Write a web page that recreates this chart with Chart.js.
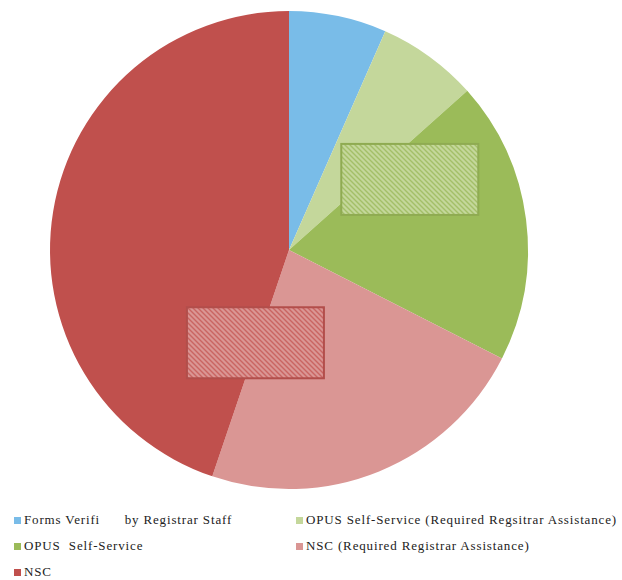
<!DOCTYPE html>
<html>
<head>
<meta charset="utf-8">
<script src="https://cdn.jsdelivr.net/npm/chart.js@4"></script>
<style>
  body { margin: 0; background: #fff; width: 622px; height: 580px; position: relative; overflow: hidden; }
  #wrap { position: absolute; left: 0; top: 0; width: 622px; height: 500px; }
  .lg { position: absolute; font-family: "Liberation Serif", serif; font-size: 13px; letter-spacing: 0.85px; color: #222; white-space: pre; }
  .lg i { display: inline-block; width: 7px; height: 7px; margin-right: 3px; vertical-align: 0px; }
</style>
</head>
<body>
<div id="wrap"><canvas id="myChart"></canvas></div>
<div id="legend"></div>
<script>
// data
var categories = [
  "Forms Verifi      by Registrar Staff",
  "OPUS Self-Service (Required Regsitrar Assistance)",
  "OPUS  Self-Service",
  "NSC (Required Registrar Assistance)",
  "NSC"
];
var shares = [6.6, 6.8, 19.1, 22.7, 44.8];
var colors = ["#79bce8", "#c4d79b", "#9bbb59", "#da9694", "#c0504d"];
var hatchColors = [null, "#a3bf68", null, "#c96562", null];
var borderColors = [null, "#8fab52", null, "#b24e4b", null];

// hatch pattern for the label boxes
function makeHatch(bg, fg) {
  var c = document.createElement("canvas");
  c.width = 5; c.height = 5;
  var g = c.getContext("2d");
  g.fillStyle = bg;
  g.fillRect(0, 0, 5, 5);
  g.strokeStyle = fg;
  g.lineWidth = 1.4;
  g.beginPath();
  g.moveTo(0, 0); g.lineTo(5, 5);
  g.moveTo(-3, 2); g.lineTo(3, 8);
  g.moveTo(2, -3); g.lineTo(8, 3);
  g.stroke();
  return g.createPattern(c, "repeat");
}

// draws the empty hatched label boxes on two slices
const labelBoxes = {
  id: "labelBoxes",
  afterDatasetsDraw(chart) {
    var ctx = chart.ctx;
    var meta = chart.getDatasetMeta(0);
    meta.data.forEach(function (arc, i) {
      if (!hatchColors[i]) return;
      var mid = (arc.startAngle + arc.endAngle) / 2;
      var frac = i == 1 ? 0.365 : 0.41;
      var ax = arc.x + Math.cos(mid) * arc.outerRadius * frac;
      var ay = arc.y + Math.sin(mid) * arc.outerRadius * frac;
      var w = 137, h = 71;
      var x = i == 1 ? ax + 1 : ax - w - 2;
      var y = i == 1 ? ay - h / 2 : ay - h / 2 + 2;
      ctx.save();
      ctx.fillStyle = makeHatch(colors[i], hatchColors[i]);
      ctx.fillRect(x, y, w, h);
      ctx.strokeStyle = borderColors[i];
      ctx.lineWidth = 2;
      ctx.strokeRect(x, y, w, h);
      ctx.restore();
    });
  }
};

const data = {
  labels: categories,
  datasets: [
    {
      data: shares,
      backgroundColor: colors,
      borderWidth: 0,
      hoverOffset: 0,
    },
  ],
};

const config = {
  type: "pie",
  data: data,
  plugins: [labelBoxes],
  options: {
    responsive: true,
    maintainAspectRatio: false,
    animation: false,
    layout: { padding: { left: 0, right: 44, top: 11, bottom: 11 } },
    plugins: {
      legend: { display: false },
      tooltip: { enabled: false },
    },
  },
};

const myChart = new Chart(document.getElementById("myChart"), config);

// legend in two columns below the pie
var pos = [[14, 512], [296, 512], [14, 538], [296, 538], [14, 564]];
var lg = document.getElementById("legend");
categories.forEach(function (name, i) {
  var d = document.createElement("div");
  d.className = "lg";
  d.style.left = pos[i][0] + "px";
  d.style.top = pos[i][1] + "px";
  d.innerHTML = '<i style="background:linear-gradient(' + colors[i] + ',' + colors[i] + ')"></i>';
  d.appendChild(document.createTextNode(name));
  lg.appendChild(d);
});
</script>
</body>
</html>
